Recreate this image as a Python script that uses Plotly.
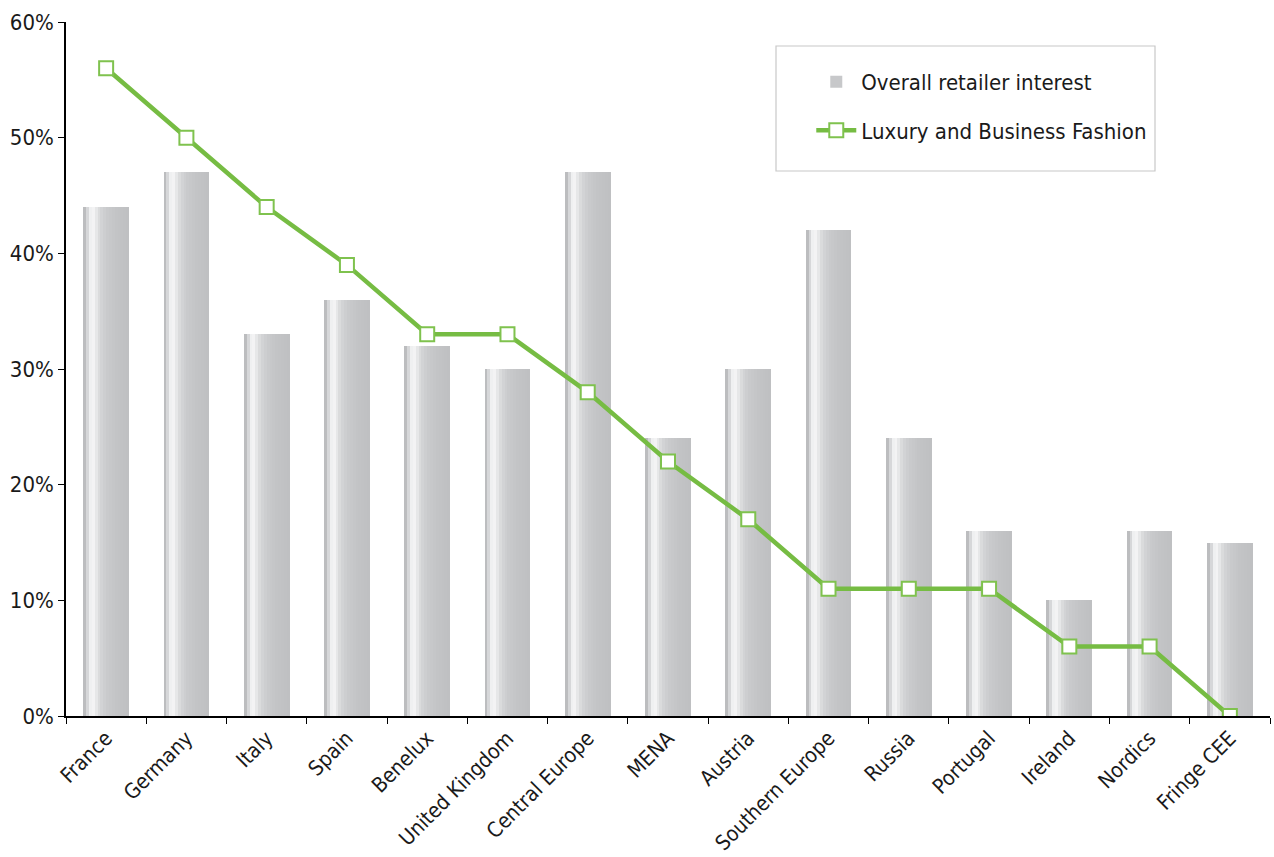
import plotly.graph_objects as go

categories = ["France", "Germany", "Italy", "Spain", "Benelux", "United Kingdom",
              "Central Europe", "MENA", "Austria", "Southern Europe", "Russia",
              "Portugal", "Ireland", "Nordics", "Fringe CEE"]
overall_interest = [44, 47, 33, 36, 32, 30, 47, 24, 30, 42, 24, 16, 10, 16, 15]
luxury_business = [56, 50, 44, 39, 33, 33, 28, 22, 17, 11, 11, 11, 6, 6, 0]

FONT = "DejaVu Sans Condensed, Liberation Sans Narrow, Roboto, Arial"

# horizontal gradient of the bars, rendered as thin overlaid stripes
stripe_colors = ["#bcbdbf", "#d6d7d9", "#eff0f1", "#f3f3f4", "#e6e7e8", "#dadbdc",
                 "#d2d3d5", "#cdced0", "#c9cacc", "#c7c8ca", "#c5c6c8", "#c3c4c6",
                 "#c2c3c5", "#c1c2c4", "#c0c1c3", "#bfc0c2"]
bar_width = 0.57
n = len(stripe_colors)
sw = bar_width / n

fig = go.Figure()
for i, c in enumerate(stripe_colors):
    fig.add_trace(go.Bar(
        x=categories, y=overall_interest,
        width=sw * 1.15 if i < n - 1 else sw, offset=-bar_width / 2 + i * sw,
        marker=dict(color=c, line=dict(width=0)),
        name="Overall retailer interest",
        showlegend=(i == 9), legendgroup="bars",
        hoverinfo="skip" if i != 9 else None,
    ))

fig.add_trace(go.Scatter(
    x=categories, y=luxury_business, mode="lines+markers",
    name="Luxury and Business Fashion", legendgroup="line",
    line=dict(color="#76bc43", width=4.5),
    marker=dict(symbol="square", size=14, color="white",
                line=dict(color="#7fc24e", width=2)),
))

fig.update_layout(
    width=1274, height=857,
    margin=dict(l=66, r=4, t=22, b=141),
    paper_bgcolor="white", plot_bgcolor="white",
    barmode="overlay", bargap=0,
    font=dict(family=FONT, size=22, color="#1a1a1a"),
    showlegend=True,
    legend=dict(x=0.619, y=0.944, xanchor="left", yanchor="top",
                borderwidth=0, bgcolor="rgba(0,0,0,0)",
                font=dict(size=22), itemwidth=40, tracegroupgap=17,
                traceorder="grouped"),
    shapes=[dict(type="rect", xref="paper", yref="paper",
                 x0=(776 - 66) / 1204, x1=(1155 - 66) / 1204,
                 y0=(716 - 171) / 694, y1=(716 - 46) / 694,
                 line=dict(color="#c8c8c8", width=1.2), fillcolor="rgba(0,0,0,0)",
                 layer="above")],
    xaxis=dict(range=[-0.5, 14.5], automargin=False,
               showline=True, linecolor="black", linewidth=1.5,
               ticks="outside", tickson="boundaries", ticklen=6,
               tickcolor="black", tickangle=-45, showgrid=False,
               tickfont=dict(size=21)),
    yaxis=dict(range=[0, 60], dtick=10, ticksuffix="%", showline=True,
               automargin=False,
               linecolor="black", linewidth=1.5, ticks="outside", ticklen=6,
               tickcolor="black", showgrid=False, zeroline=False,
               tickfont=dict(size=22)),
)

fig.write_html("out.html")
